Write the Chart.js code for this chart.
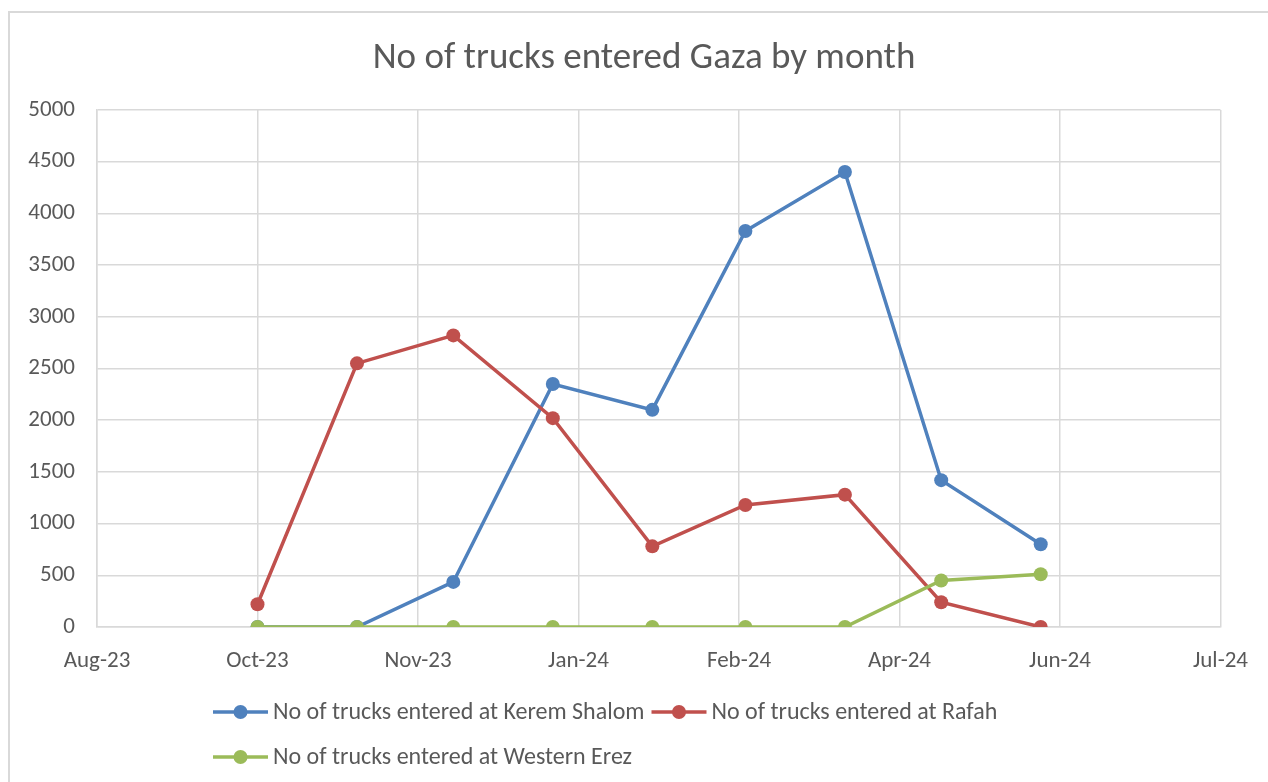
<!DOCTYPE html>
<html>
<head>
<meta charset="utf-8">
<script src="https://cdn.jsdelivr.net/npm/chart.js@4.4.1/dist/chart.umd.min.js"></script>
<style>
  html, body { margin: 0; padding: 0; background: #fff; overflow: hidden; }
  #wrap { position: relative; width: 1268px; height: 782px; }
  #frame { position: absolute; left: 8px; top: 11px; width: 1270px; height: 780px; border: 2px solid #d9d9d9; }
  canvas { position: absolute; left: 0; top: 0; }
</style>
</head>
<body>
<div id="wrap">
  <div id="frame"></div>
  <canvas id="chart" width="1268" height="782"></canvas>
</div>
<script>
// first day of each month with data
const monthDates = ["2023-10-01", "2023-11-01", "2023-12-01", "2024-01-01", "2024-02-01",
                    "2024-03-01", "2024-04-01", "2024-05-01", "2024-06-01"];
const keremShalom = [0, 0, 436, 2350, 2100, 3830, 4400, 1420, 800];
const rafah = [220, 2550, 2820, 2020, 780, 1180, 1280, 240, 0];
const westernErez = [0, 0, 0, 0, 0, 0, 0, 450, 510];

// date axis ticks every 50 days (Excel style), Aug 12 2023 .. Jul 27 2024
const xTickLabels = ["Aug-23", "Oct-23", "Nov-23", "Jan-24", "Feb-24", "Apr-24", "Jun-24", "Jul-24"];
const seriesNames = [
  "No of trucks entered at Kerem Shalom",
  "No of trucks entered at Rafah",
  "No of trucks entered at Western Erez",
];
const seriesColors = ["#4F81BD", "#C0504D", "#9BBB59"];
const chartTitle = "No of trucks entered Gaza by month";

const FONT = "Carlito, Calibri, Lato, sans-serif";
const TEXT = "#595959";
const GRID = "#d9d9d9";

const DAY = 86400000;
const t0 = Date.parse(monthDates[0]);
const dayOf = (d) => Math.round((Date.parse(d) - t0) / DAY);

function points(values) {
  return values.map((v, i) => ({ x: dayOf(monthDates[i]), y: v }));
}

const series = [keremShalom, rafah, westernErez];

// title centred on the whole frame + Excel-like legend (rows share one left edge)
const decorPlugin = {
  id: "excelDecor",
  afterDraw(chart) {
    const ctx = chart.ctx;
    ctx.save();
    ctx.fillStyle = TEXT;
    ctx.font = "37px " + FONT;
    ctx.textAlign = "center";
    ctx.textBaseline = "alphabetic";
    ctx.fillText(chartTitle, 644, 68);

    const rows = [[0, 1], [2]];
    const rowY = [712, 757];
    ctx.font = "24px " + FONT;
    ctx.textAlign = "left";
    ctx.textBaseline = "middle";
    rows.forEach((row, r) => {
      let x = 213;
      const y = rowY[r];
      row.forEach((i) => {
        const c = seriesColors[i];
        ctx.strokeStyle = c;
        ctx.lineWidth = 3.5;
        ctx.beginPath();
        ctx.moveTo(x, y);
        ctx.lineTo(x + 55, y);
        ctx.stroke();
        ctx.fillStyle = c;
        ctx.beginPath();
        ctx.arc(x + 27.5, y, 7, 0, Math.PI * 2);
        ctx.fill();
        ctx.fillStyle = TEXT;
        ctx.fillText(seriesNames[i], x + 60, y + 1);
        x += 60 + ctx.measureText(seriesNames[i]).width + 7;
      });
    });
    ctx.restore();
  },
};

const ctx = document.getElementById("chart").getContext("2d");
new Chart(ctx, {
  type: "line",
  data: {
    datasets: series.map((vals, i) => ({
      label: seriesNames[i],
      data: points(vals),
      borderColor: seriesColors[i],
      backgroundColor: seriesColors[i],
      borderWidth: 3.5,
      pointRadius: 7,
      pointBorderWidth: 0,
      pointBackgroundColor: seriesColors[i],
      tension: 0,
      fill: false,
      order: series.length - i,
    })),
  },
  options: {
    responsive: false,
    animation: false,
    devicePixelRatio: 1,
    layout: { padding: { left: 0, right: 46, top: 110, bottom: 100 } },
    plugins: {
      legend: { display: false },
      tooltip: { enabled: false },
      title: { display: false },
    },
    scales: {
      x: {
        type: "linear",
        min: -50,
        max: 300,
        afterFit: (s) => { s.height = 55; },
        ticks: {
          stepSize: 50,
          color: TEXT,
          font: { family: FONT, size: 23 },
          padding: 20,
          maxRotation: 0,
          callback: (v, i) => xTickLabels[i],
        },
        grid: { color: GRID, lineWidth: 1.5, drawTicks: false },
        border: { color: GRID, width: 1.5 },
      },
      y: {
        min: 0,
        max: 5000,
        afterFit: (s) => { s.width = 97; },
        ticks: {
          stepSize: 500,
          color: TEXT,
          font: { family: FONT, size: 23 },
          padding: 22,
          callback: (v) => String(v),
        },
        grid: { color: GRID, lineWidth: 1.5, drawTicks: false },
        border: { color: GRID, width: 1.5 },
      },
    },
  },
  plugins: [decorPlugin],
});
</script>
</body>
</html>
